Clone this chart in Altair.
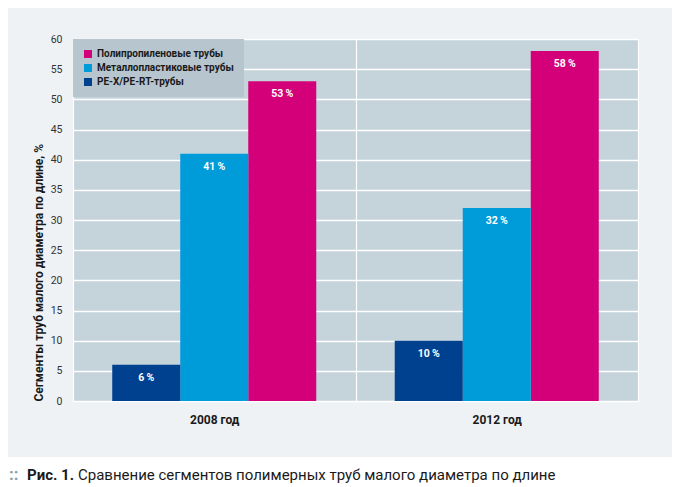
import altair as alt
import pandas as pd

years = ["2008 год", "2012 год"]
series = ["Полипропиленовые трубы", "Металлопластиковые трубы", "PE-X/PE-RT-трубы"]
bar_order = ["PE-X/PE-RT-трубы", "Металлопластиковые трубы", "Полипропиленовые трубы"]
colors = ["#d4007a", "#009bd9", "#00418f"]
values_2008 = [53, 41, 6]
values_2012 = [58, 32, 10]
y_ticks = list(range(0, 61, 5))
caption_lead = "Рис. 1."
caption_rest = "Сравнение сегментов полимерных труб малого диаметра по длине"

rows = []
for s, v in zip(series, values_2008):
    rows.append({"year": years[0], "series": s, "value": v})
for s, v in zip(series, values_2012):
    rows.append({"year": years[1], "series": s, "value": v})
df = pd.DataFrame(rows)
df["label"] = df["value"].astype(str) + "\u2009%"

FONT = "Roboto, Liberation Sans, sans-serif"
W, H = 565, 362

x = alt.X("year:N", sort=years, title=None,
          scale=alt.Scale(paddingInner=0, paddingOuter=0),
          axis=alt.Axis(labelAngle=0, ticks=False, domain=False, grid=True,
                        tickBand="extent", gridColor="white", gridWidth=1.2,
                        labelFontWeight="bold", labelFontSize=12, labelColor="#1a1a1a",
                        labelPadding=13, labelFont=FONT))
xo = alt.XOffset("series:N", sort=bar_order,
                 scale=alt.Scale(paddingInner=0, paddingOuter=0.577))
y = alt.Y("value:Q", title="Сегменты труб малого диаметра по длине, %",
          scale=alt.Scale(domain=[0, 60], nice=False),
          axis=alt.Axis(values=y_ticks, ticks=False, domain=False, gridColor="white",
                        gridWidth=1.5, labelFontSize=10.5, labelColor="#333333",
                        labelPadding=11, labelFont=FONT, titleFont=FONT,
                        titleFontSize=12, titleFontWeight="bold", titleColor="#1a1a1a",
                        titleAnchor="start", titlePadding=5))

bars = alt.Chart(df).mark_bar().encode(
    x=x, xOffset=xo, y=y,
    color=alt.Color("series:N", scale=alt.Scale(domain=series, range=colors),
                    legend=alt.Legend(title=None, orient="top-left", offset=0,
                                      fillColor="#b7c5ce", padding=10,
                                      symbolType="square", symbolSize=64,
                                      symbolStrokeWidth=0, labelFont=FONT,
                                      labelFontSize=10, labelFontWeight="bold",
                                      labelColor="#1a1a1a", rowPadding=4,
                                      labelOffset=4, labelLimit=400)),
)

labels = alt.Chart(df).mark_text(color="white", fontWeight="bold", fontSize=10.5,
                                 font=FONT, baseline="middle", dy=13).encode(
    x=x, xOffset=xo, y=y, text="label:N")

cap_df = pd.DataFrame({"lead": [caption_lead], "rest": [caption_rest], "dots": ["::"]})
white_strip = alt.Chart(cap_df).mark_rect(color="white").encode(
    x=alt.value(-80), x2=alt.value(700), y=alt.value(418), y2=alt.value(520))
dots = alt.Chart(cap_df).mark_text(align="left", baseline="alphabetic", font=FONT,
                                   fontSize=17, fontWeight="bold", color="#8a9eab").encode(
    x=alt.value(-64), y=alt.value(441), text="dots:N")
lead = alt.Chart(cap_df).mark_text(align="left", baseline="alphabetic", font=FONT,
                                   fontSize=15, fontWeight="bold", color="#1a1a1a").encode(
    x=alt.value(-46), y=alt.value(441), text="lead:N")
rest = alt.Chart(cap_df).mark_text(align="left", baseline="alphabetic", font=FONT,
                                   fontSize=15, color="#1a1a1a").encode(
    x=alt.value(5), y=alt.value(441), text="rest:N")

chart = alt.layer(bars, labels, white_strip, dots, lead, rest).properties(
    width=W, height=H,
    autosize=alt.AutoSizeParams(type="none"),
    padding={"left": 65, "top": 31, "right": 34, "bottom": 83},
    background="#eef2f5",
).configure_view(fill="#c5d3db", stroke=None).configure_axis(gridOpacity=1)

chart.save("out.html", embed_options={"renderer": "svg", "actions": False})
